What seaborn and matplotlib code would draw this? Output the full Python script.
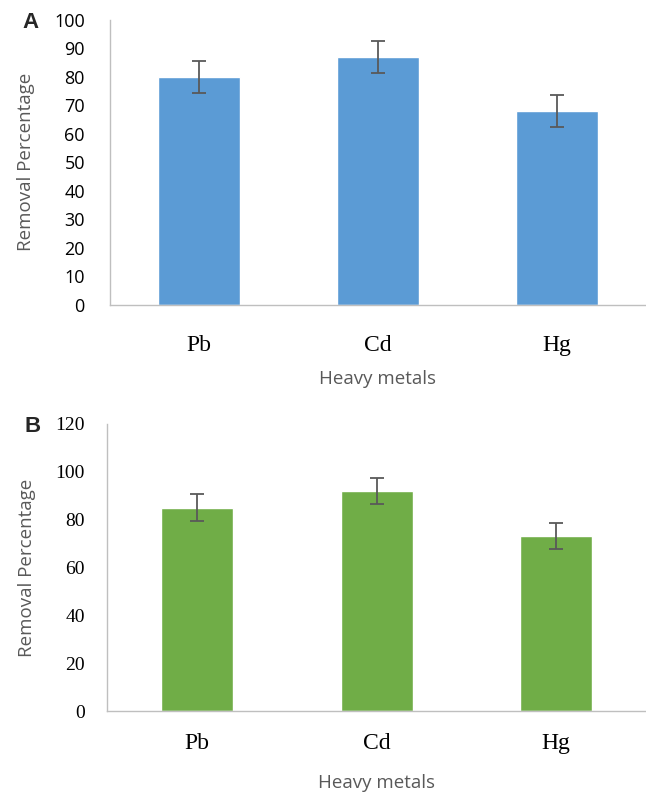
import matplotlib
matplotlib.use("Agg")
import matplotlib.pyplot as plt
import seaborn as sns
import pandas as pd

metals = ["Pb", "Cd", "Hg"]
removal_a = [80, 87, 68]
err_a = [5.5, 5.5, 5.5]
removal_b = [85, 92, 73]
err_b = [5.5, 5.5, 5.5]
yticks_a = [0, 10, 20, 30, 40, 50, 60, 70, 80, 90, 100]
yticks_b = [0, 20, 40, 60, 80, 100, 120]

sns.set_theme(style="white")
plt.rcParams['font.family'] = ['Liberation Sans', 'DejaVu Sans']

fig = plt.figure(figsize=(6.46, 7.92), dpi=100)
ax_a = fig.add_axes([0.170, 0.615, 0.830, 0.360])
ax_b = fig.add_axes([0.166, 0.102, 0.834, 0.363])

gray = "#595959"
spine_c = "#bfbfbf"

def draw(ax, vals, errs, color, width, yticks, ylim, tickfont, tickfs, tickpad, xpad, xlabpad):
    df = pd.DataFrame({"metal": metals, "val": vals})
    sns.barplot(data=df, x="metal", y="val", color=color, width=width,
                errorbar=None, ax=ax, saturation=1)
    ax.errorbar(range(len(metals)), vals, yerr=errs, fmt="none",
                ecolor=gray, elinewidth=1.3, capsize=5, capthick=1.3)
    ax.set_ylim(*ylim)
    ax.set_xlim(-0.5, 2.5)
    ax.set_yticks(yticks)
    ax.set_yticklabels([str(t) for t in yticks], family=tickfont, fontsize=tickfs, color="black")
    ax.set_xticks(range(len(metals)))
    ax.set_xticklabels(metals, family=["Liberation Serif"], fontsize=17, color="black")
    ax.tick_params(axis="y", length=0, pad=tickpad)
    ax.tick_params(axis="x", length=0, pad=xpad)
    for s in ["top", "right"]:
        ax.spines[s].set_visible(False)
    for s in ["left", "bottom"]:
        ax.spines[s].set_color(spine_c)
        ax.spines[s].set_linewidth(1.0)
    ax.set_xlabel("Heavy metals", fontsize=13.5, color=gray, family=["Open Sans"], labelpad=xlabpad)
    ax.set_ylabel("Removal Percentage", fontsize=13.5, color=gray, family=["Open Sans"], labelpad=14)

draw(ax_a, removal_a, err_a, "#5B9BD5", 0.46, yticks_a, (0, 100), ["Open Sans"], 13, 18, 22, 10)
draw(ax_b, removal_b, err_b, "#70AD47", 0.40, yticks_b, (0, 120), ["Liberation Serif"], 14, 16, 16, 14)

fig.text(0.034, 0.972, "A", fontsize=16, fontweight="bold", va="center", ha="left")
fig.text(0.038, 0.462, "B", fontsize=16, fontweight="bold", va="center", ha="left")

fig.savefig("out.png", dpi=100)
